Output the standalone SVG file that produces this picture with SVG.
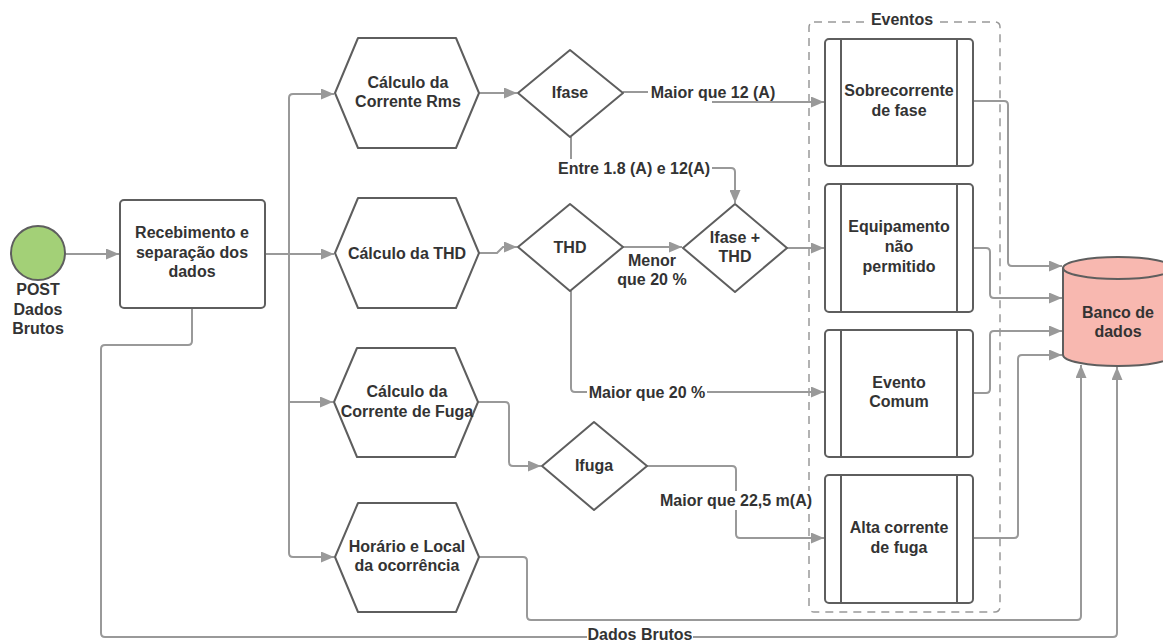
<svg xmlns="http://www.w3.org/2000/svg" width="1163" height="641" viewBox="0 0 1163 641">
<defs>
<marker id="arr" markerUnits="userSpaceOnUse" markerWidth="13" markerHeight="11" refX="13" refY="5.5" orient="auto">
<path d="M0 0 L13 5.5 L0 11 z" fill="#999"/>
</marker>
<style>
.t{font-family:"Liberation Sans",Arial,sans-serif;font-size:16px;font-weight:bold;fill:#333;text-anchor:middle}
.s{fill:#fff;stroke:#5e5e5e;stroke-width:2;stroke-linejoin:round}
.c{fill:none;stroke:#999;stroke-width:2;marker-end:url(#arr)}
.bg{fill:#fff}
</style>
</defs>
<rect width="1163" height="641" fill="#fff"/>

<g id="eventos">
<rect x="809" y="22" width="191" height="590" rx="5" fill="none" stroke="#999" stroke-width="1.5" stroke-dasharray="8 6"/>
<rect class="bg" x="868" y="10" width="68" height="18"/>
<text class="t" x="902" y="25">Eventos</text>
</g>

<g id="connectors">
<path class="c" d="M66 254 H119"/>
<path class="c" d="M265 254 H334"/>
<path class="c" d="M289 254 V98 Q289 94 293 94 H334"/>
<path class="c" d="M289 254 V553 Q289 557 293 557 H334"/>
<path class="c" d="M289 402 H333"/>
<path class="c" d="M479 93 H517"/>
<path class="c" d="M479 253 H497 L503 247 H517"/>
<path class="c" d="M623 92 H713 V102 H824"/>
<path class="c" d="M571 137 V168 H731 Q735 168 735 172 V203"/>
<path class="c" d="M623 247 H682"/>
<path class="c" d="M787 248 H824"/>
<path class="c" d="M571 291 V388 Q571 392 575 392 H824"/>
<path class="c" d="M478 402 H505 Q509 402 509 406 V462 Q509 466 513 466 H541"/>
<path class="c" d="M647 466 H732 Q736 466 736 470 V534 Q736 538 740 538 H824"/>
<path class="c" d="M973 101 H1004 Q1008 101 1008 105 V262 Q1008 266 1012 266 H1062"/>
<path class="c" d="M973 248 H986 Q990 248 990 252 V294 Q990 298 994 298 H1062"/>
<path class="c" d="M973 393 H986 Q990 393 990 389 V335 Q990 331 994 331 H1062"/>
<path class="c" d="M973 538 H1014 Q1018 538 1018 534 V359 Q1018 355 1022 355 H1062"/>
<path class="c" d="M479 557 H523 Q527 557 527 561 V616 Q527 620 531 620 H1077 Q1081 620 1081 616 V365"/>
<path class="c" d="M192 309 V341 Q192 345 188 345 H105 Q101 345 101 349 V633 Q101 637 105 637 H1113 Q1117 637 1117 633 V367"/>
<rect class="bg" x="648" y="82" width="131" height="19"/>
<text class="t" x="713" y="98">Maior que 12 (A)</text>
<rect class="bg" x="556" y="159" width="156" height="19"/>
<text class="t" x="634" y="174">Entre 1.8 (A) e 12(A)</text>
<text class="t" x="652" y="266">Menor</text>
<text class="t" x="652" y="285">que 20 %</text>
<rect class="bg" x="587" y="383" width="120" height="19"/>
<text class="t" x="647" y="398">Maior que 20 %</text>
<rect class="bg" x="658" y="491" width="156" height="19"/>
<text class="t" x="736" y="506">Maior que 22,5 m(A)</text>
<rect class="bg" x="587" y="627" width="106" height="14"/>
<text class="t" x="640" y="640">Dados Brutos</text>
</g>

<g id="post">
<circle cx="38" cy="253" r="27" fill="#a3d077" stroke="#5e5e5e" stroke-width="2"/>
<text class="t" x="38" y="295">POST</text>
<text class="t" x="38" y="315">Dados</text>
<text class="t" x="38" y="334">Brutos</text>
</g>

<g id="recebimento">
<rect class="s" x="120" y="200" width="145" height="108" rx="4"/>
<text class="t" x="192" y="238">Recebimento e</text>
<text class="t" x="192" y="258">separação dos</text>
<text class="t" x="192" y="277">dados</text>
</g>

<g id="hex-rms">
<path class="s" d="M335 93 L358 38 H456 L479 93 L456 148 H358 Z"/>
<text class="t" x="408" y="88">Cálculo da</text>
<text class="t" x="408" y="107">Corrente Rms</text>
</g>

<g id="hex-thd">
<path class="s" d="M335 253 L358 198 H456 L479 253 L456 308 H358 Z"/>
<text class="t" x="407" y="259">Cálculo da THD</text>
</g>

<g id="hex-fuga">
<path class="s" d="M334 402 L357 348 H455 L478 402 L455 457 H357 Z"/>
<text class="t" x="407" y="397">Cálculo da</text>
<text class="t" x="407" y="417">Corrente de Fuga</text>
</g>

<g id="hex-horario">
<path class="s" d="M335 557 L358 503 H456 L479 557 L456 612 H358 Z"/>
<text class="t" x="407" y="552">Horário e Local</text>
<text class="t" x="407" y="571">da ocorrência</text>
</g>

<g id="d-ifase">
<path class="s" d="M518 93 L570 50 L623 93 L570 137 Z"/>
<text class="t" x="570" y="98">Ifase</text>
</g>

<g id="d-thd">
<path class="s" d="M518 247 L570 204 L623 247 L570 291 Z"/>
<text class="t" x="570" y="253">THD</text>
</g>

<g id="d-ifase-thd">
<path class="s" d="M683 248 L735 204 L787 248 L735 292 Z"/>
<text class="t" x="735" y="243">Ifase +</text>
<text class="t" x="735" y="262">THD</text>
</g>

<g id="d-ifuga">
<path class="s" d="M542 466 L594 422 L647 466 L594 510 Z"/>
<text class="t" x="594" y="471">Ifuga</text>
</g>

<g id="ev-sobrecorrente">
<rect class="s" x="825" y="39" width="148" height="127" rx="4"/>
<path class="s" d="M841 39 V166 M957 39 V166"/>
<text class="t" x="899" y="96">Sobrecorrente</text>
<text class="t" x="899" y="116">de fase</text>
</g>

<g id="ev-equipamento">
<rect class="s" x="825" y="184" width="148" height="128" rx="4"/>
<path class="s" d="M841 184 V312 M957 184 V312"/>
<text class="t" x="899" y="232">Equipamento</text>
<text class="t" x="899" y="252">não</text>
<text class="t" x="899" y="272">permitido</text>
</g>

<g id="ev-comum">
<rect class="s" x="825" y="330" width="148" height="127" rx="4"/>
<path class="s" d="M841 330 V457 M957 330 V457"/>
<text class="t" x="899" y="388">Evento</text>
<text class="t" x="899" y="407">Comum</text>
</g>

<g id="ev-fuga">
<rect class="s" x="825" y="475" width="148" height="128" rx="4"/>
<path class="s" d="M841 475 V603 M957 475 V603"/>
<text class="t" x="899" y="533">Alta corrente</text>
<text class="t" x="899" y="553">de fuga</text>
</g>

<g id="banco">
<path d="M1063 268 V355 A55 11 0 0 0 1173 355 V268" fill="#f8b8b0" stroke="#5e5e5e" stroke-width="2"/>
<ellipse cx="1118" cy="268" rx="55" ry="11" fill="#f8b8b0" stroke="#5e5e5e" stroke-width="2"/>
<text class="t" x="1118" y="318">Banco de</text>
<text class="t" x="1118" y="337">dados</text>
</g>
</svg>
